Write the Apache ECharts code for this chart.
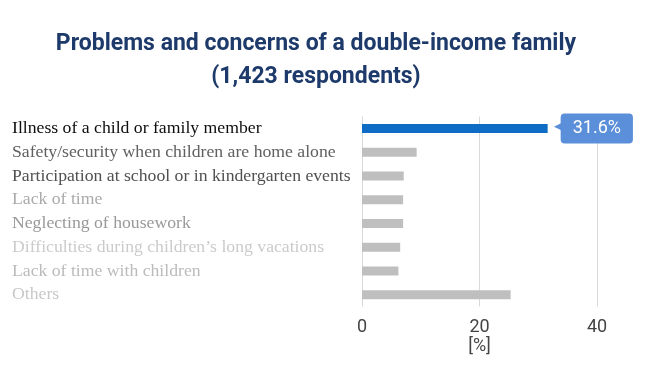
<!DOCTYPE html>
<html><head><meta charset="utf-8">
<script src="https://cdn.jsdelivr.net/npm/echarts@6/dist/echarts.min.js"></script>
<style>html,body{margin:0;padding:0;background:#fff}#c{width:660px;height:385px}</style>
</head><body><div id="c"></div>
<script>
const titleLines = ['Problems and concerns of a double-income family', '(1,423 respondents)'];
const categories = [
  'Illness of a child or family member',
  'Safety/security when children are home alone',
  'Participation at school or in kindergarten events',
  'Lack of time',
  'Neglecting of housework',
  'Difficulties during children\u2019s long vacations',
  'Lack of time with children',
  'Others'
];
const values = [31.6, 9.3, 7.1, 7.0, 7.0, 6.5, 6.2, 25.3];
const labelColors = ['#0d0d0d', '#606060', '#505050', '#aaaaaa', '#999999', '#cbcbcb', '#bbbbbb', '#c8c8c8'];
const xTicks = [0, 20, 40];
const xAxisName = '[%]';

const chart = echarts.init(document.getElementById('c'));
chart.setOption({
  animation: false,
  title: {
    text: titleLines.join('\n'),
    left: 311, textAlign: 'center', top: 23,
    textStyle: { fontFamily: 'Roboto', fontWeight: 'bold', fontSize: 23, color: '#1d3a6b', lineHeight: 33 }
  },
  grid: { left: 362, right: 63, top: 116.5, bottom: 78.5 },
  xAxis: {
    type: 'value', min: xTicks[0], max: xTicks[xTicks.length - 1], interval: 20,
    name: xAxisName, nameLocation: 'middle', nameGap: 30,
    nameTextStyle: { fontFamily: 'Roboto', fontSize: 18, color: '#444' },
    axisLine: { show: false }, axisTick: { show: false },
    axisLabel: { fontFamily: 'Roboto', fontSize: 18, color: '#444', margin: 12 },
    splitLine: { lineStyle: { color: '#d9d9d9', width: 1 } }
  },
  yAxis: {
    type: 'category', data: categories, inverse: true,
    axisLine: { show: false }, axisTick: { show: false },
    axisLabel: {
      align: 'left', margin: 350, fontFamily: 'Liberation Serif', fontSize: 17.7,
      color: function (v, i) { return labelColors[i]; }
    }
  },
  series: [{
    type: 'bar', barWidth: 9,
    data: values.map(function (v, i) {
      return i === 0 ? {
        value: v, itemStyle: { color: '#0f6cc4' },
        label: {
          show: true, position: 'right', distance: 6,
          formatter: '{a|\u25C0}{b|' + v + '%}',
          rich: {
            a: { color: '#5b8fd9', fontSize: 13, padding: [0, -3, 4, 0] },
            b: { backgroundColor: '#5b8fd9', color: '#fff', fontFamily: 'Roboto', fontSize: 18,
                 borderRadius: 4, padding: [5, 12, 5, 12], height: 20 }
          }
        }
      } : { value: v, itemStyle: { color: '#bfbfbf' } };
    })
  }]
});
</script></body></html>
